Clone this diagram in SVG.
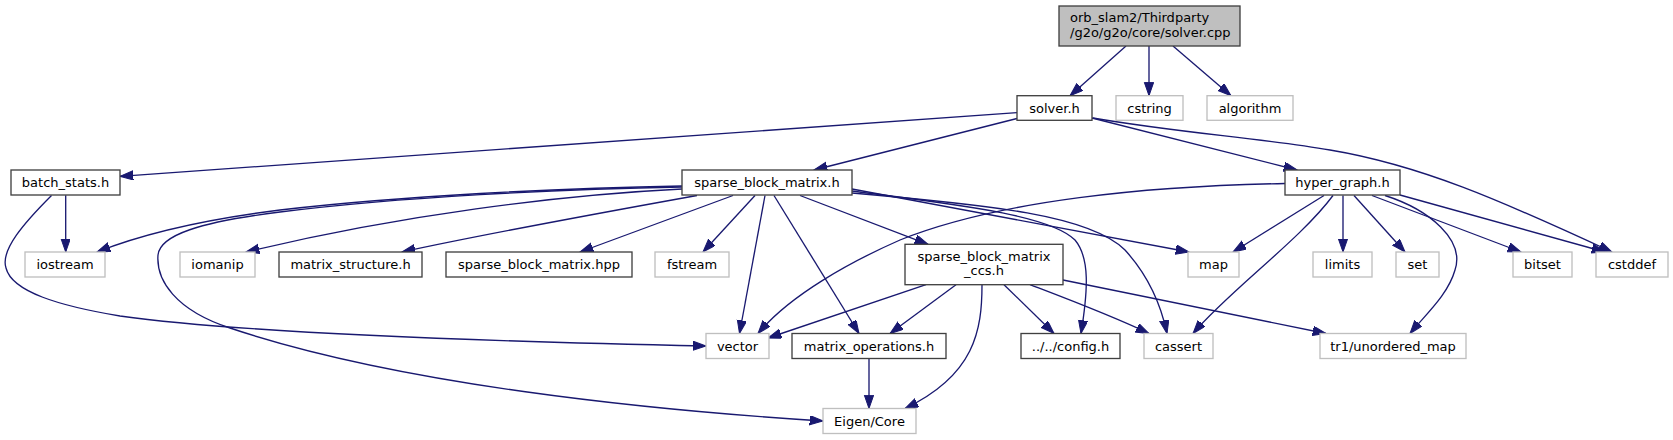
<svg xmlns="http://www.w3.org/2000/svg" width="1673" height="440" viewBox="0 0 1673 440">
<style>
.n rect{fill:#ffffff;stroke:#404040;stroke-width:1.33}
.s rect{fill:#ffffff;stroke:#bfbfbf;stroke-width:1.33}
.r rect{fill:#bfbfbf;stroke:#404040;stroke-width:1.33}
text{font-family:"DejaVu Sans","Liberation Sans",sans-serif;font-size:13px;fill:#000000;text-anchor:middle}
.e path{fill:none;stroke:#191970;stroke-width:1.33;marker-end:url(#a)}
</style>
<defs>
<marker id="a" markerWidth="15" markerHeight="11" refX="13.3" refY="4.67" orient="auto" markerUnits="userSpaceOnUse">
<path d="M0,0 L13.3,4.67 L0,9.33 z" fill="#191970" stroke="#191970" stroke-width="1"/>
</marker>
</defs>
<rect width="1673" height="440" fill="#ffffff"/>
<g class="e" id="edges">
<path d="M1126,46 L1070,95.7"/>
<path d="M1149,46 L1149,95.7"/>
<path d="M1173,46 L1231,95.7"/>
<path d="M1017,112.7 L120,176.3"/>
<path d="M1017,118.5 L814,170"/>
<path d="M1092,118 L1297,170"/>
<path d="M1093,118 C1180,133 1260,138 1330,150 C1420,165 1500,200 1612,252"/>
<path d="M65.7,195.3 L65.7,252"/>
<path d="M51.5,195.5 C25,222 0,250 6,268 C12,292 60,306 120,316 C220,330 420,340 706,346"/>
<path d="M682,186 C560,188 400,196 280,210 C200,220 140,235 97,252"/>
<path d="M682,187 C560,189 400,197 280,212 C200,222 160,235 158,255 C156,280 175,310 230,328 C400,385 650,410 823,421"/>
<path d="M682,189 C560,195 400,215 246,252"/>
<path d="M697,195.5 C600,213 480,235 402,252"/>
<path d="M733,195.5 L580,252"/>
<path d="M755,195.5 L703,252"/>
<path d="M765,195.5 L739.5,333.5"/>
<path d="M774,195.5 L859,333.5"/>
<path d="M800,195.5 L928,244.3"/>
<path d="M852,189 L1189,252"/>
<path d="M852,191 C960,205 1050,215 1075,240 C1090,258 1088,290 1081,333.5"/>
<path d="M852,193 C990,205 1090,215 1125,250 C1145,272 1160,300 1167,333.5"/>
<path d="M1285,183.5 C1150,186 1000,200 900,240 C850,262 790,295 758,333.5"/>
<path d="M1324,195.5 L1233,252"/>
<path d="M1333,195.5 C1300,240 1230,290 1193,333.5"/>
<path d="M1343,195.5 L1343,252"/>
<path d="M1354,195.5 L1405,252"/>
<path d="M1372,195.5 L1521,252"/>
<path d="M1400,195 L1605,252"/>
<path d="M1385,195.5 C1430,210 1465,240 1455,270 C1448,295 1425,315 1410,333.5"/>
<path d="M926,284.7 L768,338"/>
<path d="M956,284.7 L890,333.5"/>
<path d="M982,284.7 C982,330 975,375 905,408.5"/>
<path d="M1004,284.7 L1054,333.5"/>
<path d="M1030,284.7 C1070,300 1110,315 1149,333.5"/>
<path d="M1063,280 L1326,333.5"/>
<path d="M869,359 L869,408.5"/>
</g>
<g id="root" class="r"><rect x="1059" y="6" width="181" height="40"/><text x="1070" y="22" style="text-anchor:start">orb_slam2/Thirdparty</text><text x="1070" y="37" style="text-anchor:start">/g2o/g2o/core/solver.cpp</text></g>
<g id="solver_h" class="n"><rect x="1017" y="95.7" width="75" height="24.6"/><text x="1054.5" y="112.8">solver.h</text></g>
<g id="cstring" class="s"><rect x="1116" y="95.7" width="67" height="24.6"/><text x="1149.5" y="112.8">cstring</text></g>
<g id="algorithm" class="s"><rect x="1207" y="95.7" width="86" height="24.6"/><text x="1250" y="112.8">algorithm</text></g>
<g id="batch_stats_h" class="n"><rect x="11" y="170" width="109" height="25"/><text x="65.5" y="187.3">batch_stats.h</text></g>
<g id="sparse_block_matrix_h" class="n"><rect x="682" y="170" width="170" height="25"/><text x="767" y="187.3">sparse_block_matrix.h</text></g>
<g id="hyper_graph_h" class="n"><rect x="1285" y="170" width="115" height="25"/><text x="1342.5" y="187.3">hyper_graph.h</text></g>
<g id="iostream" class="s"><rect x="25" y="252" width="80" height="25"/><text x="65" y="269.3">iostream</text></g>
<g id="iomanip" class="s"><rect x="180" y="252" width="75" height="25"/><text x="217.5" y="269.3">iomanip</text></g>
<g id="matrix_structure_h" class="n"><rect x="279" y="252" width="143" height="25"/><text x="350.5" y="269.3">matrix_structure.h</text></g>
<g id="sparse_block_matrix_hpp" class="n"><rect x="446" y="252" width="186" height="25"/><text x="539" y="269.3">sparse_block_matrix.hpp</text></g>
<g id="fstream" class="s"><rect x="655" y="252" width="74" height="25"/><text x="692" y="269.3">fstream</text></g>
<g id="sparse_block_matrix_ccs_h" class="n"><rect x="905" y="244.3" width="158" height="40.4"/><text x="984" y="261">sparse_block_matrix</text><text x="984" y="275">_ccs.h</text></g>
<g id="map" class="s"><rect x="1188" y="252" width="51" height="25"/><text x="1213.5" y="269.3">map</text></g>
<g id="limits" class="s"><rect x="1313" y="252" width="59" height="25"/><text x="1342.5" y="269.3">limits</text></g>
<g id="set" class="s"><rect x="1396" y="252" width="43" height="25"/><text x="1417.5" y="269.3">set</text></g>
<g id="bitset" class="s"><rect x="1513" y="252" width="59" height="25"/><text x="1542.5" y="269.3">bitset</text></g>
<g id="cstddef" class="s"><rect x="1596" y="252" width="72" height="25"/><text x="1632" y="269.3">cstddef</text></g>
<g id="vector" class="s"><rect x="706" y="333.5" width="63" height="25"/><text x="737.5" y="350.8">vector</text></g>
<g id="matrix_operations_h" class="n"><rect x="792" y="333.5" width="154" height="25"/><text x="869" y="350.8">matrix_operations.h</text></g>
<g id="config_h" class="n"><rect x="1021" y="333.5" width="99" height="25"/><text x="1070.5" y="350.8">../../config.h</text></g>
<g id="cassert" class="s"><rect x="1144" y="333.5" width="69" height="25"/><text x="1178.5" y="350.8">cassert</text></g>
<g id="tr1_unordered_map" class="s"><rect x="1320" y="333.5" width="146" height="25"/><text x="1393" y="350.8">tr1/unordered_map</text></g>
<g id="eigen_core" class="s"><rect x="823" y="408.5" width="93" height="25"/><text x="869.5" y="425.8">Eigen/Core</text></g>
</svg>
